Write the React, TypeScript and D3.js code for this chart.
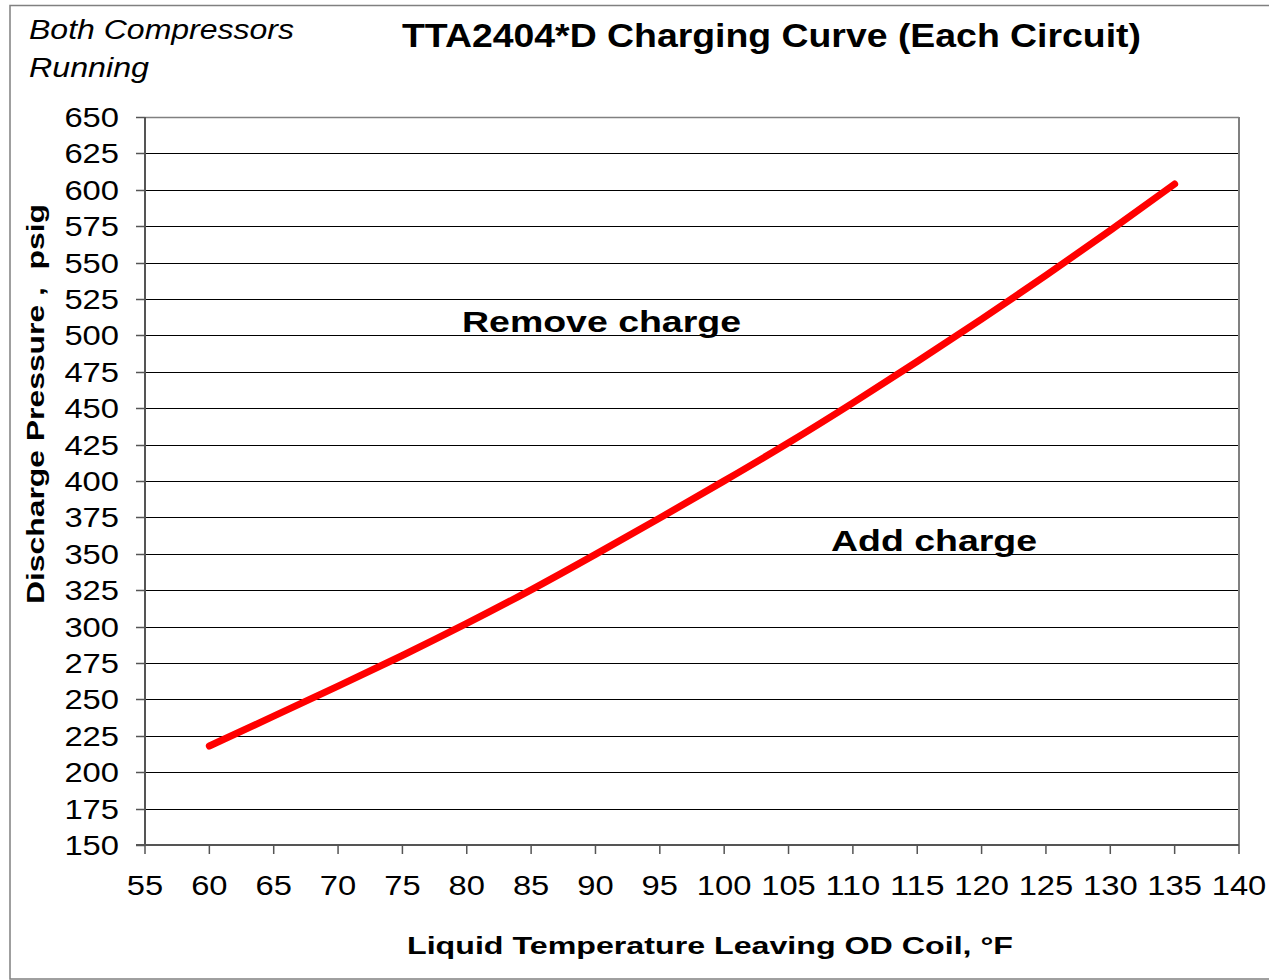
import React from 'react';
import * as d3 from 'd3';

// liquid temperature (°F) vs discharge pressure (psig)
const tempF = [60, 65, 70, 75, 80, 85, 90, 95, 100, 105, 110, 115, 120, 125, 130, 135];
const pressure = [218, 238.5, 259, 280, 302, 325, 349.5, 374.5, 400, 426, 453.5, 482, 511, 541, 572, 604];

const xTicks = d3.range(55, 141, 5);
const yTicks = d3.range(150, 651, 25);

const W = 1269;
const H = 980;
const FONT = '"Liberation Sans", Arial, sans-serif';

const x = d3.scaleLinear().domain([55, 140]).range([145, 1239]);
const y = d3.scaleLinear().domain([150, 650]).range([845, 117]);

const points: [number, number][] = tempF.map((t, i) => [t, pressure[i]]);
const line = d3
  .line<[number, number]>()
  .x(d => x(d[0]))
  .y(d => y(d[1]))
  .curve(d3.curveBasis);

const App: React.FC = () => {
  return (
    <svg
      width={W}
      height={H}
      style={{ position: 'absolute', left: 0, top: 0, background: '#fff' }}
      fontFamily={FONT}
    >
      {/* outer frame */}
      <rect x={10} y={5.5} width={W} height={973.5} fill="none" stroke="#808080" strokeWidth={1.5} />

      {/* gridlines */}
      {yTicks.map(v => (
        <line
          key={'g' + v}
          x1={x(55)}
          x2={x(140)}
          y1={Math.round(y(v)) + 0.5}
          y2={Math.round(y(v)) + 0.5}
          stroke={v === 650 ? '#808080' : '#000'}
          strokeWidth={v === 650 ? 1.5 : 1}
        />
      ))}
      {/* right border of plot */}
      <line x1={x(140)} x2={x(140)} y1={y(650)} y2={y(150)} stroke="#808080" strokeWidth={2} />

      {/* y axis */}
      <line x1={x(55)} x2={x(55)} y1={y(650)} y2={y(150) + 1} stroke="#555" strokeWidth={2} />
      {yTicks.map(v => (
        <g key={'y' + v}>
          <line x1={x(55) - 9} x2={x(55)} y1={Math.round(y(v)) + 0.5} y2={Math.round(y(v)) + 0.5} stroke="#555" strokeWidth={1.5} />
          <text
            x={119}
            y={y(v) + 10}
            textAnchor="end"
            fontSize={28}
            textLength={String(v).length * 18.2}
            lengthAdjust="spacingAndGlyphs"
            fill="#000"
          >
            {v}
          </text>
        </g>
      ))}

      {/* x axis */}
      <line x1={x(55) - 9} x2={x(140)} y1={y(150)} y2={y(150)} stroke="#555" strokeWidth={2} />
      {xTicks.map(v => (
        <g key={'x' + v}>
          <line x1={x(v)} x2={x(v)} y1={y(150)} y2={y(150) + 9} stroke="#555" strokeWidth={1.5} />
          <text
            x={x(v)}
            y={895}
            textAnchor="middle"
            fontSize={28}
            textLength={String(v).length * 18.2}
            lengthAdjust="spacingAndGlyphs"
            fill="#000"
          >
            {v}
          </text>
        </g>
      ))}

      {/* charging curve */}
      <path d={line(points) || ''} fill="none" stroke="#ff0000" strokeWidth={7} strokeLinecap="round" strokeLinejoin="round" />

      {/* titles */}
      <text x={771.5} y={47} textAnchor="middle" fontSize={33.5} fontWeight="bold" textLength={739} lengthAdjust="spacingAndGlyphs">
        TTA2404*D Charging Curve (Each Circuit)
      </text>
      <text x={29} y={39} fontSize={27} fontStyle="italic" textLength={265} lengthAdjust="spacingAndGlyphs">
        Both Compressors
      </text>
      <text x={29} y={77} fontSize={27} fontStyle="italic" textLength={120} lengthAdjust="spacingAndGlyphs">
        Running
      </text>

      <text x={601.5} y={332} textAnchor="middle" fontSize={30} fontWeight="bold" textLength={279} lengthAdjust="spacingAndGlyphs">
        Remove charge
      </text>
      <text x={934} y={551} textAnchor="middle" fontSize={30} fontWeight="bold" textLength={206} lengthAdjust="spacingAndGlyphs">
        Add charge
      </text>

      <text x={710} y={954} textAnchor="middle" fontSize={24.5} fontWeight="bold" textLength={606} lengthAdjust="spacingAndGlyphs">
        Liquid Temperature Leaving OD Coil, °F
      </text>
      <text
        transform="translate(44,404) rotate(-90)"
        textAnchor="middle"
        fontSize={24.5}
        fontWeight="bold"
        textLength={400}
        lengthAdjust="spacingAndGlyphs"
        style={{ whiteSpace: 'pre' }}
      >
        {'Discharge Pressure ,  psig'}
      </text>
    </svg>
  );
};

export default App;
